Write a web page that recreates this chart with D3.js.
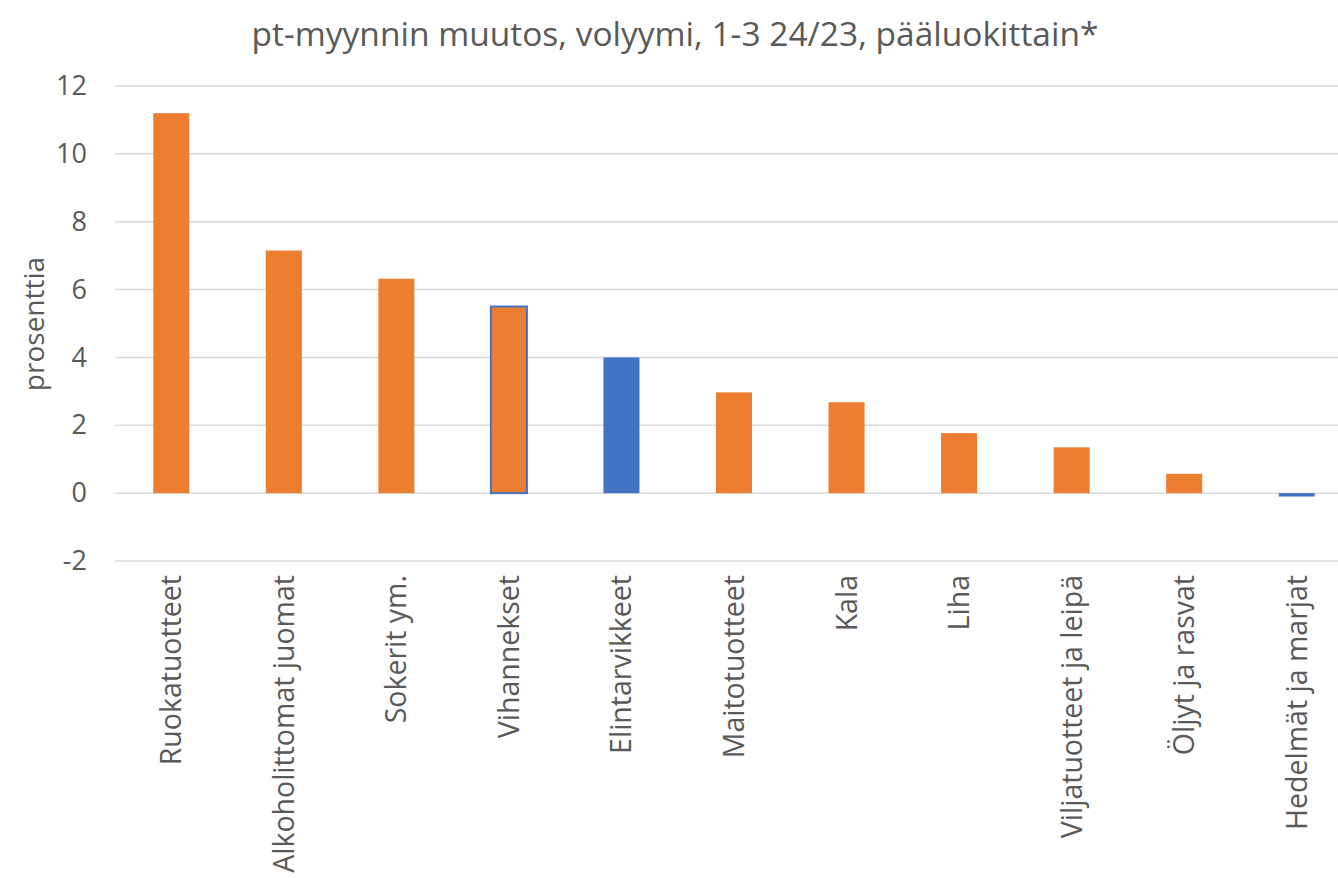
<!DOCTYPE html>
<html><head><meta charset="utf-8">
<script src="https://cdn.jsdelivr.net/npm/d3@7"></script>
<style>body{margin:0;background:#fff}</style>
</head><body>
<svg id="c" width="1338" height="878"></svg>
<script>
const categories = ["Ruokatuotteet","Alkoholittomat juomat","Sokerit ym.","Vihannekset","Elintarvikkeet","Maitotuotteet","Kala","Liha","Viljatuotteet ja leipä","Öljyt ja rasvat","Hedelmät ja marjat"];
const values = [11.2, 7.15, 6.32, 5.5, 4.0, 2.97, 2.68, 1.77, 1.35, 0.57, -0.1];
const fills = ["#ED7D31","#ED7D31","#ED7D31","#ED7D31","#4472C4","#ED7D31","#ED7D31","#ED7D31","#ED7D31","#ED7D31","#4472C4"];
const strokes = [null,null,null,"#4472C4",null,null,null,null,null,null,null];
const yTicks = [-2,0,2,4,6,8,10,12];
const title = "pt-myynnin muutos, volyymi, 1-3 24/23, pääluokittain*";
const yLabel = "prosenttia";

const font = "'Open Sans', 'Noto Sans', sans-serif";
const svg = d3.select("#c");
const x = d3.scaleBand().domain(categories).range([115, 1353]).paddingInner(0.68).paddingOuter(0.34);
const y = d3.scaleLinear().domain([-2, 12]).range([561, 86]);

svg.append("text").attr("x", 675).attr("y", 46).attr("text-anchor","middle")
  .attr("font-family", font).attr("font-size", 33.5).attr("fill","#595959").text(title);

const grid = svg.append("g");
grid.selectAll("line").data(yTicks).join("line")
  .attr("x1",115).attr("x2",1338).attr("y1",d=>y(d)).attr("y2",d=>y(d))
  .attr("stroke","#D9D9D9").attr("stroke-width",1.5);

const yAxis = svg.append("g").attr("transform","translate(87,0)")
  .call(d3.axisLeft(y).tickValues(yTicks).tickFormat(d=>String(d)).tickSize(0).tickPadding(0));
yAxis.select(".domain").remove();
yAxis.selectAll("text").attr("font-family",font).attr("font-size",27).attr("fill","#595959");

svg.append("text").attr("transform","translate(44,324) rotate(-90)").attr("text-anchor","middle")
  .attr("font-family",font).attr("font-size",28).attr("fill","#595959").text(yLabel);

svg.append("g").selectAll("rect").data(categories).join("rect")
  .attr("x", d=>x(d)).attr("width", x.bandwidth())
  .attr("y", (d,i)=>y(Math.max(0,values[i])))
  .attr("height", (d,i)=>Math.abs(y(values[i])-y(0)))
  .attr("fill",(d,i)=>fills[i])
  .attr("stroke",(d,i)=>strokes[i]||"none").attr("stroke-width",2);

const xAxis = svg.append("g").attr("transform","translate(0,561)")
  .call(d3.axisBottom(x).tickSize(0).tickPadding(0));
xAxis.select(".domain").remove();
xAxis.selectAll("text").attr("font-family",font).attr("font-size",28.5).attr("fill","#595959")
  .attr("transform","rotate(-90)").attr("text-anchor","end").attr("x",-14).attr("y",0).attr("dy","0.35em");
</script>
</body></html>
